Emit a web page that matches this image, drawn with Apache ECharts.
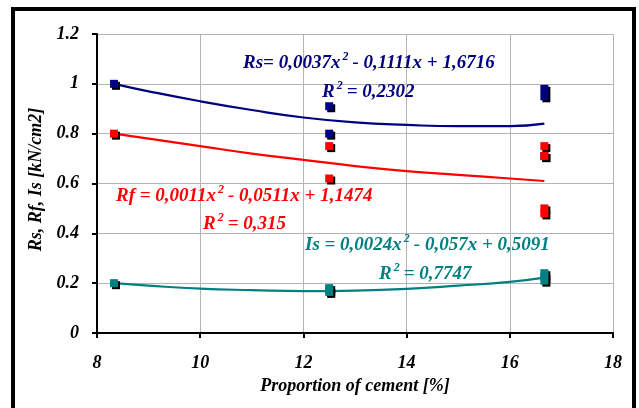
<!DOCTYPE html>
<html>
<head>
<meta charset="utf-8">
<script src="https://cdn.jsdelivr.net/npm/echarts@6/dist/echarts.min.js"></script>
<style>
  html, body { margin: 0; padding: 0; background: #fff; }
  #main { width: 639px; height: 408px; }
</style>
</head>
<body>
<div id="main"></div>
<script>
// measured points
var rsX = [8.33, 12.5, 12.5, 16.67, 16.67, 16.67];
var rsY = [1.0, 0.91, 0.80, 0.98, 0.95, 0.71];
var rfX = [8.33, 12.5, 12.5, 16.67, 16.67, 16.67, 16.67];
var rfY = [0.80, 0.75, 0.62, 0.75, 0.71, 0.50, 0.48];
var isX = [8.33, 12.5, 12.5, 12.5, 16.67, 16.67, 16.67];
var isY = [0.20, 0.18, 0.17, 0.165, 0.24, 0.225, 0.21];

// trend lines
var trendX = [8.33, 9, 10, 11, 12, 13, 14, 15, 16, 16.67];
var rsTrend = [1.0, 0.97, 0.93, 0.895, 0.865, 0.845, 0.835, 0.83, 0.83, 0.84];
var rfTrend = [0.80, 0.78, 0.75, 0.72, 0.695, 0.67, 0.65, 0.635, 0.62, 0.61];
var isTrend = [0.20, 0.19, 0.178, 0.172, 0.168, 0.17, 0.177, 0.19, 0.205, 0.222];

var xTicks = [8, 10, 12, 14, 16, 18];
var yTicks = [0, 0.2, 0.4, 0.6, 0.8, 1, 1.2];

var cRs = '#000080', cRf = '#ff0000', cIs = '#008080';
var font = 'Liberation Serif';

function pairs(xs, ys) {
  return xs.map(function (x, i) { return [x, ys[i]]; });
}

function scatter(name, xs, ys, color, z) {
  return {
    name: name,
    type: 'scatter',
    symbol: 'rect',
    symbolSize: 8,
    z: z,
    data: pairs(xs, ys),
    itemStyle: {
      color: color,
      opacity: 1,
      shadowColor: '#000',
      shadowBlur: 0,
      shadowOffsetX: 2,
      shadowOffsetY: 2
    }
  };
}

function trend(name, ys, color) {
  return {
    name: name,
    type: 'line',
    smooth: true,
    showSymbol: false,
    z: 1,
    data: pairs(trendX, ys),
    lineStyle: { color: color, width: 2.2 }
  };
}

// equation labels (superscript 2 via rich text)
function eq(left, cy, color, parts) {
  return {
    type: 'text',
    left: left,
    top: cy - 11,
    z: 10,
    style: {
      text: parts,
      fill: color,
      font: 'italic bold 19px "' + font + '"',
      rich: {
        t: { fontSize: 19, fontStyle: 'italic', fontWeight: 'bold', fontFamily: font, color: color, lineHeight: 22, verticalAlign: 'bottom' },
        s: { fontSize: 12, fontStyle: 'italic', fontWeight: 'bold', fontFamily: font, color: color, lineHeight: 22, verticalAlign: 'top', padding: [0, 4, 0, 2] }
      }
    }
  };
}

var chart = echarts.init(document.getElementById('main'));

var axisFont = { fontFamily: font, fontSize: 18, fontWeight: 'bold', fontStyle: 'italic', color: '#000' };

var option = {
  backgroundColor: '#fff',
  animation: false,
  grid: { left: 97, right: 26, top: 34, bottom: 75 },
  xAxis: {
    type: 'value',
    min: xTicks[0],
    max: xTicks[xTicks.length - 1],
    interval: 2,
    name: 'Proportion of cement [%]',
    nameLocation: 'middle',
    nameGap: 44,
    nameTextStyle: axisFont,
    axisLine: { show: true, onZero: false, lineStyle: { color: '#000', width: 2 } },
    axisTick: { show: true, length: 5, lineStyle: { color: '#000', width: 2 } },
    axisLabel: Object.assign({ margin: 21 }, axisFont),
    splitLine: { show: true, lineStyle: { color: '#b4b4b4', width: 1 } }
  },
  yAxis: {
    type: 'value',
    min: yTicks[0],
    max: yTicks[yTicks.length - 1],
    interval: 0.2,
    name: 'Rs, Rf, Is [kN/cm2]',
    nameLocation: 'middle',
    nameGap: 46,
    nameTextStyle: Object.assign({ padding: [0, 0, 0, 8] }, axisFont),
    axisLine: { show: true, lineStyle: { color: '#000', width: 2 } },
    axisTick: { show: true, length: 5, lineStyle: { color: '#000', width: 2 } },
    axisLabel: Object.assign({ margin: 18 }, axisFont),
    splitLine: { show: true, lineStyle: { color: '#b4b4b4', width: 1 } }
  },
  series: [
    trend('Rs trend', rsTrend, cRs),
    trend('Rf trend', rfTrend, cRf),
    trend('Is trend', isTrend, cIs),
    scatter('Rs', rsX, rsY, cRs, 3),
    scatter('Rf', rfX, rfY, cRf, 4),
    scatter('Is', isX, isY, cIs, 5)
  ],
  graphic: [
    {
      type: 'rect',
      z: 20,
      shape: { x: 13, y: 9, width: 621, height: 420 },
      style: { fill: 'none', stroke: '#000', lineWidth: 4 }
    },
    eq(243, 62, cRs, '{t|Rs= 0,0037x}{s|2}{t|- 0,1111x + 1,6716}'),
    eq(322, 91, cRs, '{t|R}{s|2}{t|= 0,2302}'),
    eq(116, 195, cRf, '{t|Rf = 0,0011x}{s|2}{t|- 0,0511x + 1,1474}'),
    eq(203, 223, cRf, '{t|R}{s|2}{t|= 0,315}'),
    eq(305, 244, cIs, '{t|Is = 0,0024x}{s|2}{t|- 0,057x + 0,5091}'),
    eq(379, 273, cIs, '{t|R}{s|2}{t|= 0,7747}')
  ]
};

chart.setOption(option);
</script>
</body>
</html>
